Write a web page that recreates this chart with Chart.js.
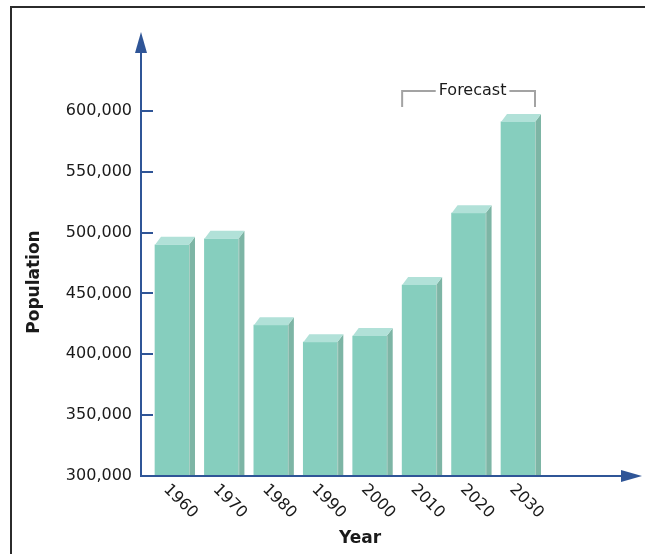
<!DOCTYPE html>
<html>
<head>
<meta charset="utf-8">
<script src="https://cdn.jsdelivr.net/npm/chart.js@4/dist/chart.umd.min.js"></script>
<style>
  html, body { margin: 0; padding: 0; background: #fff; }
  #wrap { position: relative; width: 645px; height: 554px; overflow: hidden; }
  #frame { position: absolute; left: 10px; top: 6px; width: 700px; height: 700px;
           border-top: 2px solid #2b2b2b; border-left: 2px solid #2b2b2b; box-sizing: border-box; }
  canvas { position: absolute; left: 0; top: 0; }
</style>
</head>
<body>
<div id="wrap">
  <div id="frame"></div>
  <canvas id="c" width="645" height="554"></canvas>
</div>
<script>
// Population by decade; 2010 onward is a forecast
const years = ['1960', '1970', '1980', '1990', '2000', '2010', '2020', '2030'];
const population = [490000, 495000, 424000, 410000, 415000, 457000, 516000, 591000];
const yTicks = [300000, 350000, 400000, 450000, 500000, 550000, 600000];
const forecastFrom = 5;   // index of first forecast decade
const forecastLabel = 'Forecast';
const xTitle = 'Year';
const yTitle = 'Population';

const AXIS = '#2f5597';
const FRONT = '#86cebe';
const SIDE = '#7db5a5';
const TOP = '#b1e1d8';
const FONT = '"DejaVu Sans", Verdana, sans-serif';
const DEPTH_X = 6, DEPTH_Y = 8;

const extrasPlugin = {
  id: 'extras',
  afterDatasetsDraw(chart) {
    const ctx = chart.ctx;
    const meta = chart.getDatasetMeta(0);
    const bottom = chart.chartArea.bottom;
    ctx.save();
    meta.data.forEach(bar => {
      const w = bar.width;
      const L = bar.x - w / 2, R = bar.x + w / 2, T = bar.y, B = Math.min(bar.base, bottom);
      // right side face
      ctx.fillStyle = SIDE;
      ctx.beginPath();
      ctx.moveTo(R, T); ctx.lineTo(R + DEPTH_X, T - DEPTH_Y);
      ctx.lineTo(R + DEPTH_X, B); ctx.lineTo(R, B); ctx.closePath(); ctx.fill();
      // top face
      ctx.fillStyle = TOP;
      ctx.beginPath();
      ctx.moveTo(L, T); ctx.lineTo(R, T);
      ctx.lineTo(R + DEPTH_X, T - DEPTH_Y); ctx.lineTo(L + DEPTH_X, T - DEPTH_Y);
      ctx.closePath(); ctx.fill();
      // thin highlight edge between front and side
      ctx.strokeStyle = 'rgba(255,255,255,0.35)';
      ctx.lineWidth = 1;
      ctx.beginPath(); ctx.moveTo(R + 0.5, T); ctx.lineTo(R + 0.5, B); ctx.stroke();
    });
    ctx.restore();
  },
  afterDraw(chart) {
    const ctx = chart.ctx;
    const area = chart.chartArea;
    const xs = chart.scales.x, ys = chart.scales.y;
    const meta = chart.getDatasetMeta(0);
    ctx.save();

    // axis lines redrawn over the bars, with arrow heads
    ctx.strokeStyle = AXIS; ctx.fillStyle = AXIS; ctx.lineWidth = 2;
    ctx.beginPath();
    ctx.moveTo(area.left, area.bottom); ctx.lineTo(area.right, area.bottom);
    ctx.moveTo(area.left, area.bottom); ctx.lineTo(area.left, area.top);
    ctx.stroke();
    ctx.beginPath();
    ctx.moveTo(area.right - 1, area.bottom - 6);
    ctx.lineTo(area.right + 20, area.bottom);
    ctx.lineTo(area.right - 1, area.bottom + 6);
    ctx.closePath(); ctx.fill();
    ctx.beginPath();
    ctx.moveTo(area.left - 6, area.top + 1);
    ctx.lineTo(area.left, area.top - 20);
    ctx.lineTo(area.left + 6, area.top + 1);
    ctx.closePath(); ctx.fill();

    // inward tick marks on the value axis
    ctx.beginPath();
    ys.ticks.forEach(t => {
      const py = Math.round(ys.getPixelForValue(t.value));
      ctx.moveTo(area.left, py); ctx.lineTo(area.left + 12, py);
    });
    ctx.stroke();

    // rotated decade labels
    ctx.fillStyle = '#1a1a1a';
    ctx.font = '16px ' + FONT;
    ctx.textAlign = 'left';
    ctx.textBaseline = 'middle';
    years.forEach((label, i) => {
      const px = xs.getPixelForValue(i);
      ctx.save();
      ctx.translate(px - 6, area.bottom + 11);
      ctx.rotate(Math.PI / 4);
      ctx.fillText(label, 0, 0);
      ctx.restore();
    });

    // axis titles
    ctx.font = 'bold 17px ' + FONT;
    ctx.textAlign = 'center';
    ctx.fillText(xTitle, 360, 539);
    ctx.save();
    ctx.translate(35, 282);
    ctx.rotate(-Math.PI / 2);
    ctx.fillText(yTitle, 0, 0);
    ctx.restore();

    // forecast bracket over the projected decades
    const first = meta.data[forecastFrom], last = meta.data[meta.data.length - 1];
    const bl = first.x - first.width / 2, br = last.x + last.width / 2;
    const by = 91, bottomY = 107;
    ctx.font = '16px ' + FONT;
    const tw = ctx.measureText(forecastLabel).width;
    const cx = (bl + br) / 2 + 4;
    ctx.strokeStyle = '#a3a3a3'; ctx.lineWidth = 2;
    ctx.beginPath();
    ctx.moveTo(bl, bottomY); ctx.lineTo(bl, by); ctx.lineTo(cx - tw / 2 - 3, by);
    ctx.moveTo(cx + tw / 2 + 3, by); ctx.lineTo(br, by); ctx.lineTo(br, bottomY);
    ctx.stroke();
    ctx.fillStyle = '#1a1a1a';
    ctx.textBaseline = 'middle';
    ctx.fillText(forecastLabel, cx, by);

    ctx.restore();
  }
};

new Chart(document.getElementById('c'), {
  type: 'bar',
  data: {
    datasets: [{
      data: years.map((y, i) => ({ x: i, y: population[i] })),
      base: 300000,
      backgroundColor: FRONT,
      borderWidth: 0,
      barThickness: 34
    }]
  },
  options: {
    responsive: false,
    animation: false,
    events: [],
    layout: { padding: { top: 52, right: 23, bottom: 0, left: 0 } },
    plugins: { legend: { display: false }, tooltip: { enabled: false } },
    scales: {
      x: {
        type: 'linear',
        offset: false,
        min: -0.627,
        max: 9.104,
        grid: { display: false, offset: false },
        border: { display: true, color: AXIS, width: 2 },
        ticks: { display: false },
        afterFit: s => { s.height = 78; }
      },
      y: {
        min: 300000,
        max: 648493,
        afterBuildTicks: s => { s.ticks = yTicks.map(v => ({ value: v })); },
        grid: { display: true, drawOnChartArea: false, drawTicks: false },
        border: { display: true, color: AXIS, width: 2 },
        ticks: {
          padding: 9,
          color: '#1a1a1a',
          font: { family: FONT, size: 16 },
          callback: v => v.toLocaleString('en-US')
        },
        afterFit: s => { s.width = 141; }
      }
    }
  },
  plugins: [extrasPlugin]
});
</script>
</body>
</html>
